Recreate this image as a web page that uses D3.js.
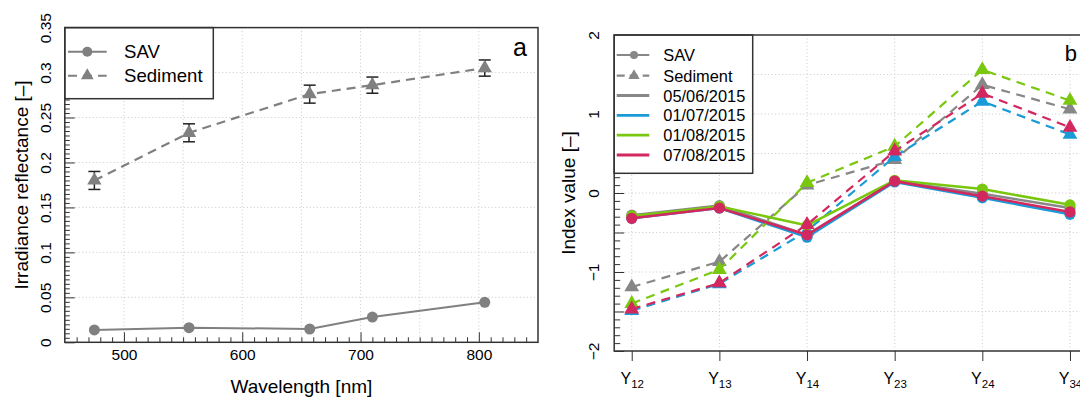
<!DOCTYPE html>
<html><head><meta charset="utf-8">
<script src="https://cdn.jsdelivr.net/npm/d3@7"></script>
<style>
body{margin:0;background:#fff}
svg{display:block}
text{font-family:"Liberation Sans",Arial,Helvetica,sans-serif;fill:#000}
</style>
</head><body>
<svg id="c" width="1080" height="399"></svg>
<script>
// ---------- DATA : panel a ----------
const wavelengths = [475, 555, 657, 710, 805];
const savReflectance = [0.0137, 0.0163, 0.0148, 0.0281, 0.0445];
const sedReflectance = [0.180, 0.233, 0.276, 0.286, 0.305];
const sedError = [0.010, 0.010, 0.010, 0.009, 0.009];
const xTicksA = [500, 600, 700, 800];
const yTicksA = [0, 0.05, 0.1, 0.15, 0.2, 0.25, 0.3, 0.35];
const yTickLabelsA = ["0", "0.05", "0.1", "0.15", "0.2", "0.25", "0.3", "0.35"];
const xGridA = [500, 550, 600, 650, 700, 750, 800];
const yGridA = [0.05, 0.1, 0.15, 0.2, 0.25, 0.3];

// ---------- DATA : panel b ----------
const indexNames = ["Y12", "Y13", "Y14", "Y23", "Y24", "Y34"];
const dates = ["05/06/2015", "01/07/2015", "01/08/2015", "07/08/2015"];
const dateColors = ["#878787", "#1A9BD7", "#79C70F", "#D2285F"];
const savIndex_0506 = [-0.28, -0.16, -0.53, 0.15, -0.01, -0.19];
const savIndex_0107 = [-0.32, -0.19, -0.56, 0.14, -0.06, -0.27];
const savIndex_0108 = [-0.29, -0.17, -0.41, 0.16, 0.05, -0.15];
const savIndex_0708 = [-0.32, -0.19, -0.53, 0.15, -0.04, -0.24];
const sedIndex_0506 = [-1.19, -0.87, 0.10, 0.42, 1.37, 1.06];
const sedIndex_0107 = [-1.49, -1.15, -0.48, 0.46, 1.16, 0.74];
const sedIndex_0108 = [-1.40, -0.97, 0.13, 0.59, 1.56, 1.17];
const sedIndex_0708 = [-1.47, -1.14, -0.40, 0.53, 1.26, 0.83];
const savIndex = [savIndex_0506, savIndex_0107, savIndex_0108, savIndex_0708];
const sedIndex = [sedIndex_0506, sedIndex_0107, sedIndex_0108, sedIndex_0708];
const yTicksB = [-2, -1, 0, 1, 2];
const yTickLabelsB = ["\u22122", "\u22121", "0", "1", "2"];
const yGridB = [-1.5, -1, -0.5, 0, 0.5, 1, 1.5];

// ---------- DRAW ----------
const FONT = '"Liberation Sans",Arial,Helvetica,sans-serif';
const svg = d3.select("#c");
svg.append("rect").attr("width", 1080).attr("height", 399).attr("fill", "#fff");

const GRID = "#c9c9c9", AX = "#333";
const triangle = s => d3.symbol().type(d3.symbolTriangle).size(s)();

function styleAxis(g) {
  g.attr("font-size", null).attr("font-family", null).attr("color", AX);
  g.select(".domain").remove();
  g.selectAll(".tick line").attr("stroke-width", 1);
}

// ===== Panel a =====
const xA = d3.scaleLinear().domain([450, 850]).range([64.8, 538]);
const yA = d3.scaleLinear().domain([0, 0.35]).range([342.3, 27.6]);
const gA = svg.append("g");

// grid
gA.append("g").selectAll("line").data(xGridA).join("line")
  .attr("x1", d => xA(d)).attr("x2", d => xA(d)).attr("y1", yA(0.35)).attr("y2", yA(0))
  .attr("stroke", GRID).attr("stroke-dasharray", "1,2.5");
gA.append("g").selectAll("line").data(yGridA).join("line")
  .attr("y1", d => yA(d)).attr("y2", d => yA(d)).attr("x1", xA(450)).attr("x2", xA(850))
  .attr("stroke", GRID).attr("stroke-dasharray", "1,2.5");

// axes (inward ticks)
const minorXA = d3.range(46, 85).map(i => i * 10).filter(v => v % 100 !== 0);
gA.append("g").attr("transform", `translate(0,${yA(0)})`)
  .call(d3.axisBottom(xA).tickValues(minorXA).tickSize(-5).tickFormat(""))
  .call(styleAxis);
const gxA = gA.append("g").attr("transform", `translate(0,${yA(0)})`)
  .call(d3.axisBottom(xA).tickValues(xTicksA).tickSize(-10).tickPadding(7).tickFormat(d3.format("d")))
  .call(styleAxis);
gxA.selectAll("text").style("font-size", "15.5px").style("font-family", FONT).attr("fill", "#000");

const minorYA = d3.range(1, 70).filter(i => i % 10 !== 0).map(i => i * 0.005);
gA.append("g").attr("transform", `translate(${xA(450)},0)`)
  .call(d3.axisLeft(yA).tickValues(minorYA).tickSize(-5).tickFormat(""))
  .call(styleAxis);
const gyA = gA.append("g").attr("transform", `translate(${xA(450)},0)`)
  .call(d3.axisLeft(yA).tickValues(yTicksA).tickSize(-10).tickFormat((d, i) => yTickLabelsA[i]))
  .call(styleAxis);
gyA.selectAll("text").attr("x", null).attr("dy", null)
  .attr("text-anchor", "middle").attr("dominant-baseline", "central")
  .attr("transform", "translate(-19.5,0) rotate(-90)")
  .style("font-size", "15.5px").style("font-family", FONT).attr("fill", "#000");

// lines
const GRAY_A = "#808080";
const lineA = d3.line().x(d => xA(d[0])).y(d => yA(d[1]));
gA.append("path").datum(wavelengths.map((w, i) => [w, sedReflectance[i]]))
  .attr("d", lineA).attr("fill", "none").attr("stroke", GRAY_A).attr("stroke-width", 2.2)
  .attr("stroke-dasharray", "9,6");
gA.append("path").datum(wavelengths.map((w, i) => [w, savReflectance[i]]))
  .attr("d", lineA).attr("fill", "none").attr("stroke", GRAY_A).attr("stroke-width", 2);

// error bars
const eb = gA.append("g").attr("stroke", "#222").attr("stroke-width", 1.5);
wavelengths.forEach((w, i) => {
  const x = xA(w), yt = yA(sedReflectance[i] + sedError[i]), yb = yA(sedReflectance[i] - sedError[i]);
  eb.append("line").attr("x1", x).attr("x2", x).attr("y1", yt).attr("y2", yb);
  eb.append("line").attr("x1", x - 6).attr("x2", x + 6).attr("y1", yt).attr("y2", yt);
  eb.append("line").attr("x1", x - 6).attr("x2", x + 6).attr("y1", yb).attr("y2", yb);
});
// markers
gA.append("g").selectAll("path").data(wavelengths).join("path")
  .attr("d", triangle(88)).attr("fill", GRAY_A)
  .attr("transform", (d, i) => `translate(${xA(d)},${yA(sedReflectance[i])})`);
gA.append("g").selectAll("circle").data(wavelengths).join("circle")
  .attr("cx", d => xA(d)).attr("cy", (d, i) => yA(savReflectance[i])).attr("r", 5.5).attr("fill", GRAY_A);

// legend a
const lgA = gA.append("g");
lgA.append("rect").attr("x", xA(450)).attr("y", yA(0.35)).attr("width", 213.3 - xA(450)).attr("height", 98.7 - yA(0.35))
  .attr("fill", "#fff").attr("stroke", AX).attr("stroke-width", 1.5);
lgA.append("line").attr("x1", 68).attr("x2", 106.7).attr("y1", 51.7).attr("y2", 51.7)
  .attr("stroke", GRAY_A).attr("stroke-width", 2);
lgA.append("circle").attr("cx", 87.3).attr("cy", 51.7).attr("r", 5).attr("fill", GRAY_A);
lgA.append("line").attr("x1", 68).attr("x2", 106.7).attr("y1", 75.7).attr("y2", 75.7)
  .attr("stroke", GRAY_A).attr("stroke-width", 2).attr("stroke-dasharray", "9,6");
lgA.append("path").attr("d", triangle(70)).attr("fill", GRAY_A).attr("transform", "translate(87.3,75.7)");
lgA.append("text").attr("x", 124).attr("y", 51.7).attr("dominant-baseline", "central").style("font-size", "18.6px").text("SAV");
lgA.append("text").attr("x", 124).attr("y", 75.7).attr("dominant-baseline", "central").style("font-size", "18.6px").text("Sediment");

// box
gA.append("rect").attr("x", xA(450)).attr("y", yA(0.35)).attr("width", xA(850) - xA(450)).attr("height", yA(0) - yA(0.35))
  .attr("fill", "none").attr("stroke", AX).attr("stroke-width", 1.5);

// labels
gA.append("text").attr("x", 527).attr("y", 47).attr("text-anchor", "end").attr("dominant-baseline", "central")
  .style("font-size", "25px").text("a");
gA.append("text").attr("x", (xA(450) + xA(850)) / 2).attr("y", 386.7).attr("text-anchor", "middle")
  .attr("dominant-baseline", "central").style("font-size", "19px").text("Wavelength [nm]");
gA.append("text").attr("transform", `translate(21.7,${(yA(0) + yA(0.35)) / 2}) rotate(-90)`)
  .attr("text-anchor", "middle").attr("dominant-baseline", "central").style("font-size", "19px")
  .text("Irradiance reflectance [\u2013]");

// ===== Panel b =====
const xB = d3.scaleLinear().domain([0.8, 6.2]).range([614.2, 1087.5]);
const yB = d3.scaleLinear().domain([-2, 2]).range([351, 35]);
const gB = svg.append("g");
const catPos = indexNames.map((n, i) => i + 1);

gB.append("g").selectAll("line").data(catPos).join("line")
  .attr("x1", d => xB(d)).attr("x2", d => xB(d)).attr("y1", yB(2)).attr("y2", yB(-2))
  .attr("stroke", GRID).attr("stroke-dasharray", "1,2.5");
gB.append("g").selectAll("line").data(yGridB).join("line")
  .attr("y1", d => yB(d)).attr("y2", d => yB(d)).attr("x1", xB(0.8)).attr("x2", xB(6.2))
  .attr("stroke", GRID).attr("stroke-dasharray", "1,2.5");

// y axis inward
const minorYB = d3.range(-19, 20).filter(i => i % 5 !== 0).map(i => i / 10);
gB.append("g").attr("transform", `translate(${xB(0.8)},0)`)
  .call(d3.axisLeft(yB).tickValues(minorYB).tickSize(-6).tickFormat(""))
  .call(styleAxis);
gB.append("g").attr("transform", `translate(${xB(0.8)},0)`)
  .call(d3.axisLeft(yB).tickValues([-1.5, -0.5, 0.5, 1.5]).tickSize(-10).tickFormat(""))
  .call(styleAxis);
const gyB = gB.append("g").attr("transform", `translate(${xB(0.8)},0)`)
  .call(d3.axisLeft(yB).tickValues(yTicksB).tickSize(-10).tickFormat((d, i) => yTickLabelsB[i]))
  .call(styleAxis);
gyB.selectAll("text").attr("x", null).attr("dy", null)
  .attr("text-anchor", "middle").attr("dominant-baseline", "central")
  .attr("transform", "translate(-20.7,0) rotate(-90)")
  .style("font-size", "15.5px").style("font-family", FONT).attr("fill", "#000");

// x axis outward
const gxB = gB.append("g").attr("transform", `translate(0,${yB(-2)})`)
  .call(d3.axisBottom(xB).tickValues(catPos).tickSize(10).tickFormat(""))
  .call(styleAxis);
gxB.selectAll(".tick").append("text").attr("y", 33).attr("text-anchor", "middle")
  .each(function (d, i) {
    const t = d3.select(this);
    t.append("tspan").style("font-size", "16px").style("font-family", FONT).text(indexNames[i].slice(0, 1));
    t.append("tspan").attr("dy", 4).style("font-size", "11.5px").style("font-family", FONT).text(indexNames[i].slice(1));
  });

// series
const lineB = d3.line().x(d => xB(d[0])).y(d => yB(d[1]));
dates.forEach((dt, k) => {
  const c = dateColors[k];
  const sed = sedIndex[k].map((v, i) => [i + 1, v]);
  const sav = savIndex[k].map((v, i) => [i + 1, v]);
  const g = gB.append("g");
  g.append("path").datum(sed).attr("d", lineB).attr("fill", "none").attr("stroke", c)
    .attr("stroke-width", 2.2).attr("stroke-dasharray", "9,6.5");
  g.append("g").selectAll("path").data(sed).join("path")
    .attr("d", triangle(95)).attr("fill", c).attr("transform", d => `translate(${xB(d[0])},${yB(d[1])})`);
  g.append("path").datum(sav).attr("d", lineB).attr("fill", "none").attr("stroke", c).attr("stroke-width", 2.5);
  g.append("g").selectAll("circle").data(sav).join("circle")
    .attr("cx", d => xB(d[0])).attr("cy", d => yB(d[1])).attr("r", 5.6).attr("fill", c);
});

// legend b
const lgB = gB.append("g");
lgB.append("rect").attr("x", xB(0.8)).attr("y", yB(2)).attr("width", 752.7 - xB(0.8)).attr("height", 173.3 - yB(2))
  .attr("fill", "#fff").attr("stroke", AX).attr("stroke-width", 1.5);
const rowsB = [55, 75.7, 95.5, 115.3, 135.1, 155];
const lx1 = 616.7, lx2 = 649.3, lxm = 634, ltx = 663.3;
lgB.append("line").attr("x1", lx1).attr("x2", lx2).attr("y1", rowsB[0]).attr("y2", rowsB[0])
  .attr("stroke", dateColors[0]).attr("stroke-width", 2.2);
lgB.append("circle").attr("cx", lxm).attr("cy", rowsB[0]).attr("r", 4).attr("fill", dateColors[0]);
lgB.append("line").attr("x1", lx1).attr("x2", lx2).attr("y1", rowsB[1]).attr("y2", rowsB[1])
  .attr("stroke", dateColors[0]).attr("stroke-width", 2.2).attr("stroke-dasharray", "8,5");
lgB.append("path").attr("d", triangle(55)).attr("fill", dateColors[0]).attr("transform", `translate(${lxm},${rowsB[1]})`);
dates.forEach((dt, k) => {
  lgB.append("line").attr("x1", lx1).attr("x2", lx2).attr("y1", rowsB[k + 2]).attr("y2", rowsB[k + 2])
    .attr("stroke", dateColors[k]).attr("stroke-width", 2.8);
});
["SAV", "Sediment"].concat(dates).forEach((t, i) => {
  lgB.append("text").attr("x", ltx).attr("y", rowsB[i]).attr("dominant-baseline", "central")
    .style("font-size", "16.4px").text(t);
});

// box
gB.append("rect").attr("x", xB(0.8)).attr("y", yB(2)).attr("width", xB(6.2) - xB(0.8)).attr("height", yB(-2) - yB(2))
  .attr("fill", "none").attr("stroke", AX).attr("stroke-width", 1.5);

gB.append("text").attr("x", 1077).attr("y", 53.3).attr("text-anchor", "end").attr("dominant-baseline", "central")
  .style("font-size", "22px").text("b");
gB.append("text").attr("transform", `translate(568.3,${(yB(2) + yB(-2)) / 2}) rotate(-90)`)
  .attr("text-anchor", "middle").attr("dominant-baseline", "central").style("font-size", "19px")
  .text("Index value [\u2013]");
</script>
</body></html>
